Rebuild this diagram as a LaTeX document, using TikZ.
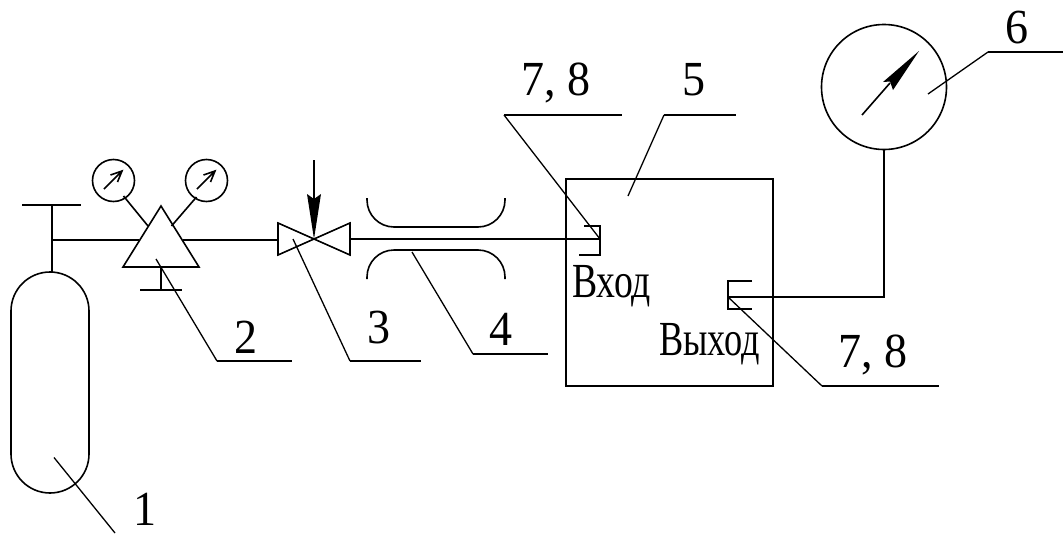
\documentclass[tikz,border=0pt]{standalone}
\usepackage{fontspec}
\usepackage{graphicx}
\setmainfont{Liberation Serif}
\newcommand{\dg}[1]{\scalebox{.94}[1]{#1}}
\tikzset{
  ln/.style={line width=1.6pt, line cap=butt, line join=miter},
  thinln/.style={line width=1.3pt},
  lab/.style={inner sep=0pt, outer sep=0pt, anchor=base, font=\fontsize{49}{50}\selectfont},
  cyr/.style={inner sep=0pt, outer sep=0pt, anchor=base west, font=\fontsize{49}{50}\selectfont},
  gauge/.style={draw, circle, ln, inner sep=0pt, outer sep=0pt, minimum size=42pt},
  head/.style={fill=black, draw=none}
}
\begin{document}
\begin{tikzpicture}[x=1pt,y=-1pt]
\useasboundingbox (0,0) rectangle (1063,533);
% cylinder
\node[draw, ln, rectangle, rounded corners=39pt, minimum width=78pt, minimum height=221pt, inner sep=0pt, outer sep=0pt] (cyl) at (50,382.5) {};
\coordinate (hTop) at (52,205);
\coordinate (hL) at (22,205);
\coordinate (hR) at (81,205);
\coordinate (tee) at (52,240);
\draw[ln] (hL) -- (hR);
\draw[ln] (hTop) -- (52,272);
% regulator
\coordinate (rA) at (161,206);
\coordinate (rB) at (123,267);
\coordinate (rC) at (199,267);
\draw[ln] (rA) -- (rB) -- (rC) -- cycle;
\coordinate (rL) at (139,240);
\coordinate (rR) at (183,240);
\draw[ln] (tee) -- (rL);
\coordinate (vL) at (278,240);
\draw[ln] (rR) -- (vL);
\coordinate (rS) at (161,267);
\coordinate (rH) at (161,290);
\draw[ln] (rS) -- (rH);
\draw[ln] (140,290) -- (182,290);
% small gauges
\node[gauge] (g1) at (113.5,180.5) {};
\node[gauge] (g2) at (206.5,180.5) {};
\coordinate (g1c) at (148,226);
\coordinate (g2c) at (171.5,226);
\draw[ln] (123.5,196) -- (g1c);
\draw[ln] (196.5,197) -- (g2c);
\draw[ln] (104,189) -- (122,171) (110.5,175) -- (122,171) -- (117.5,182);
\draw[ln] (197,189) -- (215,171) (203.5,175) -- (215,171) -- (210.5,182);
% valve
\coordinate (vC) at (314,239);
\coordinate (vR) at (350,239);
\draw[ln] (vC) -- (278,223) -- (278,255) -- cycle;
\draw[ln] (vC) -- (350,223) -- (350,255) -- cycle;
\draw[ln] (314,160) -- (314,200);
\fill[head] (vC) -- (307,194) -- (314,199) -- (321,194) -- cycle;
% channel
\draw[ln, rounded corners=27pt] (367,198) -- (367,227) -- (505,227) -- (505,198);
\draw[ln, rounded corners=27pt] (367,279) -- (367,250) -- (505,250) -- (505,279);
% box
\node[draw, ln, rectangle, minimum width=207pt, minimum height=207pt, inner sep=0pt, outer sep=0pt] (box) at (669.5,282.5) {};
% input bracket
\coordinate (inP) at (600,239);
\draw[ln] (vR) -- (inP);
\draw[ln] (584,226) -- (600,226) -- (600,255) -- (579,255);
% output bracket
\coordinate (outP) at (728,297);
\draw[ln] (752,281) -- (728,281) -- (728,309) -- (752,309);
% big gauge
\node[draw, circle, ln, inner sep=0pt, outer sep=0pt, minimum size=125pt] (g6) at (884,87) {};
\draw[ln] (g6.south) -- (884,297) -- (outP);
\draw[ln] (862,115) -- (890,83);
\fill[head] (919,51) -- (883,82) -- (890,81.5) -- (893,90) -- cycle;
% leaders
\coordinate (a1) at (54,457.5);
\coordinate (b1) at (115,533);
\draw[thinln] (a1) -- (b1);
\coordinate (b2) at (217,361);
\draw[thinln] (156,259) -- (b2);
\draw[ln] (b2) -- (292,361);
\coordinate (b3) at (350,361);
\draw[thinln] (293,239) -- (b3);
\draw[ln] (b3) -- (421,361);
\coordinate (b4) at (473,354);
\draw[thinln] (412,252) -- (b4);
\draw[ln] (b4) -- (548,354);
\coordinate (b7) at (504,115);
\draw[thinln] (inP) -- (b7);
\draw[ln] (b7) -- (622,115);
\coordinate (b5) at (664,115);
\draw[thinln] (628,196) -- (b5);
\draw[ln] (b5) -- (736,115);
\coordinate (b6) at (988,52);
\draw[thinln] (928,94) -- (b6);
\draw[ln] (b6) -- (1063,52);
\coordinate (b8) at (822,386);
\draw[thinln] (outP) -- (b8);
\draw[ln] (b8) -- (939,386);
% labels
\node[lab] (l1) at (145,525) {\dg{1}};
\node[lab] (l2) at (246,353) {\dg{2}};
\node[lab] (l3) at (379,343) {\dg{3}};
\node[lab] (l4) at (501,345) {\dg{4}};
\node[lab] (l5) at (694,95) {\dg{5}};
\node[lab] (l6) at (1017,43) {\dg{6}};
\node[lab] (l7) at (556,95) {\dg{7, 8}};
\node[lab] (l8) at (873,367) {\dg{7, 8}};
\node[cyr] (inT) at (572,297) {\scalebox{.77}[1]{Вход}};
\node[cyr] (outT) at (659,355) {\scalebox{.74}[1]{Выход}};
\end{tikzpicture}
\end{document}
